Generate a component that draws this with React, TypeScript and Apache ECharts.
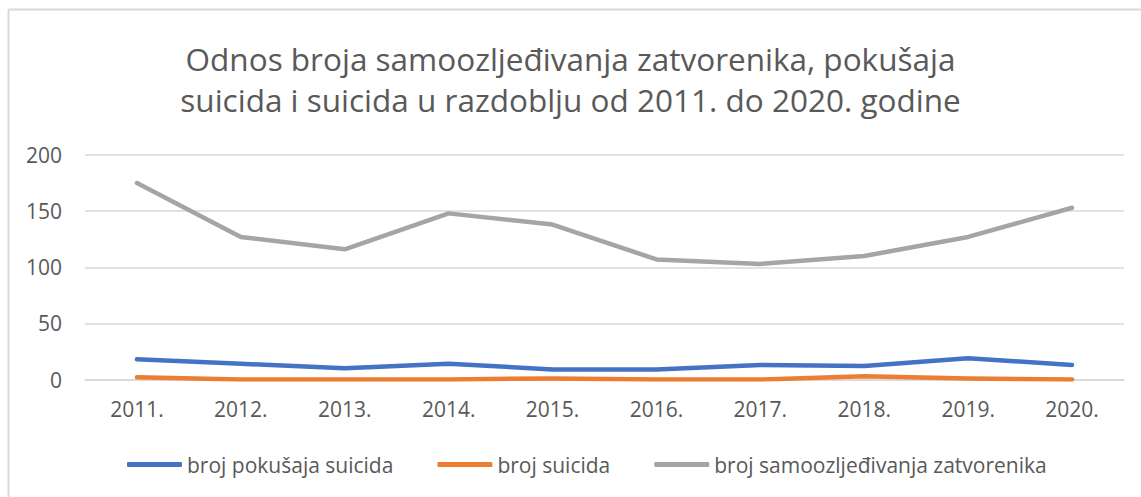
import React, { useEffect, useRef } from "react";
import * as echarts from "echarts";

const categories = ["2011.", "2012.", "2013.", "2014.", "2015.", "2016.", "2017.", "2018.", "2019.", "2020."];
const pokusajiSuicida = [18, 14, 10, 14, 9, 9, 13, 12, 19, 13];
const suicidi = [2, 0, 0, 0, 1, 0, 0, 3, 1, 0];
const samoozljedivanja = [175, 127, 116, 148, 138, 107, 103, 110, 127, 153];
const seriesNames = ["broj pokušaja suicida", "broj suicida", "broj samoozljeđivanja zatvorenika"];
const titleText = "Odnos broja samoozljeđivanja zatvorenika, pokušaja\nsuicida i suicida u razdoblju od 2011. do 2020. godine";

const FONT = "'Open Sans', sans-serif";
const TEXT = "#595959";

export default function App() {
  const ref = useRef<HTMLDivElement>(null);
  useEffect(() => {
    document.body.style.margin = "0";
    const chart = echarts.init(ref.current!, null, { renderer: "svg" });
    const mk = (name: string, data: number[], color: string) => ({
      name,
      type: "line",
      data,
      showSymbol: false,
      symbol: "none",
      itemStyle: { color },
      lineStyle: { color, width: 4.5, cap: "round", join: "round" },
    });
    chart.setOption({
      animation: false,
      backgroundColor: "#ffffff",
      textStyle: { fontFamily: FONT },
      title: {
        text: titleText,
        left: "center",
        top: 33,
        textStyle: { fontFamily: FONT, fontSize: 31.5, fontWeight: "normal", color: TEXT, lineHeight: 41 },
      },
      graphic: [
        { type: "line", shape: { x1: 8.5, y1: 9.5, x2: 1141, y2: 9.5 }, style: { stroke: "#D9D9D9", lineWidth: 2 } },
        { type: "line", shape: { x1: 8.5, y1: 9.5, x2: 8.5, y2: 497 }, style: { stroke: "#D9D9D9", lineWidth: 2 } },
      ],
      legend: {
        data: seriesNames,
        bottom: 17,
        left: 122,
        itemWidth: 55,
        itemHeight: 5,
        itemGap: 44,
        icon: "roundRect",
        textStyle: { fontFamily: FONT, fontSize: 21, color: TEXT },
      },
      grid: { left: 85, right: 17, top: 155, bottom: 117.5 },
      xAxis: {
        type: "category",
        data: categories,
        boundaryGap: true,
        axisLine: { show: true, lineStyle: { color: "#D9D9D9", width: 1.5 } },
        axisTick: { show: false },
        axisLabel: { fontFamily: FONT, fontSize: 21, color: TEXT, margin: 19 },
      },
      yAxis: {
        type: "value",
        min: 0,
        max: 200,
        interval: 50,
        axisLine: { show: false },
        axisTick: { show: false },
        splitLine: { lineStyle: { color: "#D9D9D9", width: 1.5 } },
        axisLabel: { fontFamily: FONT, fontSize: 21, color: TEXT, margin: 23 },
      },
      series: [
        mk(seriesNames[0], pokusajiSuicida, "#4472C4"),
        mk(seriesNames[1], suicidi, "#ED7D31"),
        mk(seriesNames[2], samoozljedivanja, "#A5A5A5"),
      ],
    });
    return () => chart.dispose();
  }, []);
  return <div ref={ref} style={{ width: 1141, height: 497 }} />;
}
